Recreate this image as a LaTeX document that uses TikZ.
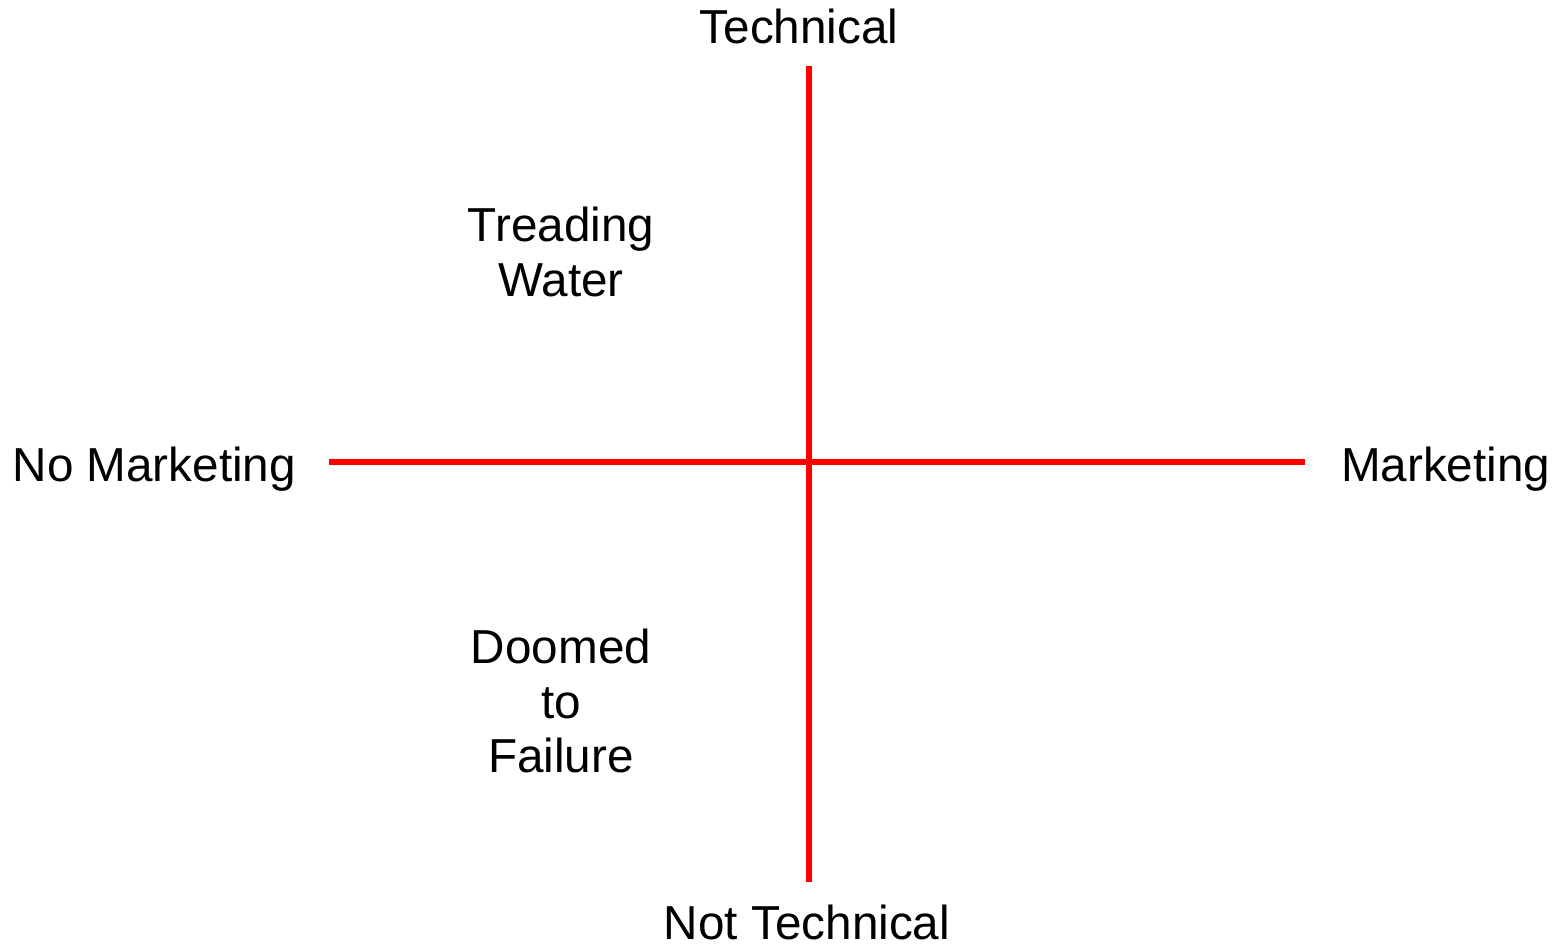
\documentclass[tikz,border=0pt]{standalone}
\usepackage{fontspec}
\setmainfont{Liberation Sans}
\begin{document}
\begin{tikzpicture}[x=0.01cm,y=-0.01cm,
  axis/.style={draw=red, line width=0.06cm},
  label/.style={inner sep=0pt, font=\fontsize{13.55pt}{15.6pt}\selectfont},
  quad/.style={inner sep=0pt, align=center, font=\fontsize{13.55pt}{15.6pt}\selectfont}]
  % canvas
  \useasboundingbox (0,0) rectangle (1560,946);
  % axis end points
  \coordinate (top) at (809,66);
  \coordinate (bottom) at (809,882);
  \coordinate (left) at (329,462);
  \coordinate (right) at (1305,462);
  % axes
  \draw[axis] (left) -- (right);
  \draw[axis] (top) -- (bottom);
  % axis labels
  \node[label, anchor=base] (tech) at (799,44) {Technical};
  \node[label, anchor=base] (nottech) at (807,939) {Not Technical};
  \node[label, anchor=base west] (nomkt) at (12,482) {No Marketing};
  \node[label, anchor=base east] (mkt) at (1551,482) {Marketing};
  % quadrant labels
  \node[quad] (tread) at (561,252) {Treading\\Water};
  \node[quad] (doomed) at (561,701) {Doomed\\to\\Failure};
\end{tikzpicture}
\end{document}
